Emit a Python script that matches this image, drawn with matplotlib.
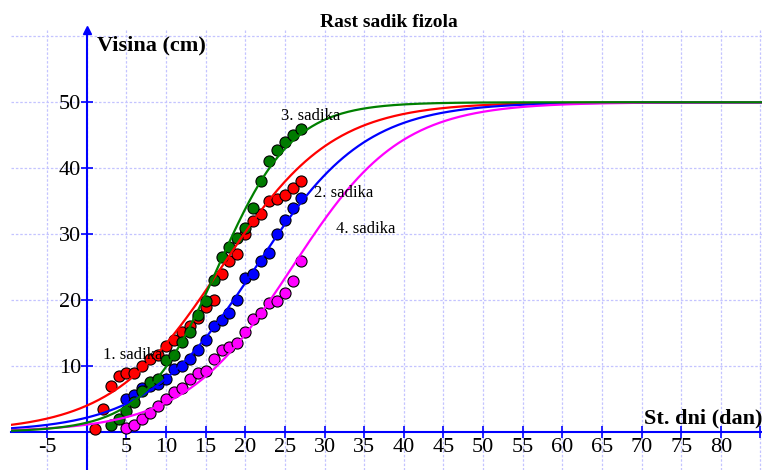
import numpy as np
import matplotlib
matplotlib.use("Agg")
import matplotlib.pyplot as plt

plt.rcParams["font.family"] = ["Liberation Serif", "DejaVu Serif"]

# Measured plant heights (cm) per day
days_red = list(range(1, 28))
red = [0.5, 3.5, 7.0, 8.5, 9.0, 9.0, 10.0, 11.0, 11.7, 13.0, 14.0, 15.1, 16.1, 17.3,
       19.0, 20.0, 24.0, 26.0, 27.0, 30.0, 32.0, 33.0, 35.0, 35.4, 36.0, 37.0, 38.0]

days_blue = list(range(5, 28))
blue = [5.0, 5.6, 6.6, 6.9, 7.2, 8.0, 9.5, 10.0, 11.0, 12.4, 13.9, 16.0, 17.0, 18.0,
        20.0, 23.4, 24.0, 26.0, 27.1, 30.0, 32.2, 34.0, 35.5]

days_green = list(range(3, 28))
green = [1.0, 2.0, 3.2, 4.6, 6.2, 7.6, 8.0, 10.9, 11.6, 13.6, 15.1, 17.7, 19.8, 23.0,
         26.6, 28.1, 29.4, 31.0, 34.0, 38.1, 41.1, 42.7, 44.0, 45.0, 46.0]

days_magenta = list(range(5, 28))
magenta = [0.6, 1.0, 2.0, 2.9, 4.0, 5.0, 6.1, 6.7, 8.0, 9.0, 9.3, 11.0, 12.4, 12.9,
           13.5, 15.1, 17.1, 18.1, 19.6, 19.9, 21.1, 22.9, 26.0]

# Logistic fits y = K / (1 + a*exp(-b*x))
K = 50
fit_red = (11.5, 0.1437)
fit_blue = (22.0, 0.145)
fit_green = (34.5, 0.214)
fit_magenta = (44.0, 0.146)

xmin, xmax = -9.57, 85.2
ymin, ymax = -5.77, 60.96
axis_blue = "#0000ff"
grid_col = "#c4c4ff"

fig = plt.figure(figsize=(7.62, 4.70), dpi=100)
ax = fig.add_axes([11 / 762, 0, 751 / 762, 440 / 470])
ax.set_xlim(xmin, xmax)
ax.set_ylim(ymin, ymax)

# dotted grid
for gx in range(-5, 90, 5):
    ax.axvline(gx, color=grid_col, ls=(0, (2, 1.5)), lw=0.9, zorder=0)
for gy in range(10, 70, 10):
    ax.axhline(gy, color=grid_col, ls=(0, (2, 1.5)), lw=0.9, zorder=0)

xs = np.linspace(xmin, xmax, 600)


def logistic(x, a, b):
    return K / (1 + a * np.exp(-b * x))


series = [
    (days_red, red, fit_red, "#ff0000", "#ff0000"),
    (days_blue, blue, fit_blue, "#0000ff", "#0000ff"),
    (days_magenta, magenta, fit_magenta, "#ff00ff", "#ff00ff"),
    (days_green, green, fit_green, "#008000", "#007a00"),
]
for d, v, (a, b), lc, fc in series:
    ax.plot(d, v, "o", ms=8, mfc=fc, mec="black", mew=0.8, zorder=3)
for d, v, (a, b), lc, fc in series:
    ax.plot(xs, logistic(xs, a, b), color=lc, lw=1.6, zorder=4)

# axes through origin
for side in ["top", "right"]:
    ax.spines[side].set_visible(False)
ax.spines["left"].set_position(("data", 0))
ax.spines["bottom"].set_position(("data", 0))
for side in ["left", "bottom"]:
    ax.spines[side].set_color(axis_blue)
    ax.spines[side].set_linewidth(1.5)
    ax.spines[side].set_zorder(2)

xt = [t for t in range(-5, 90, 5) if t != 0]
ax.set_xticks(xt)
ax.set_xticklabels([str(t) if t != 85 else "" for t in xt])
ax.set_yticks([10, 20, 30, 40, 50])
ax.tick_params(direction="inout", length=8, width=1.2, color=axis_blue,
               labelsize=16, pad=0)
ax.plot([0], [ymax], marker="^", ms=6, color=axis_blue, clip_on=False, zorder=5)

# labels
ax.text(1.3, 57.9, "Visina (cm)", fontsize=16, fontweight="bold", va="baseline")
ax.text(70.3, 1.3, "St. dni (dan)", fontsize=16, fontweight="bold", va="baseline")
ax.text(2.05, 11.0, "1. sadika", fontsize=12, va="baseline", zorder=6)
ax.text(28.7, 35.7, "2. sadika", fontsize=12, va="baseline", zorder=6)
ax.text(24.5, 47.3, "3. sadika", fontsize=12, va="baseline", zorder=6)
ax.text(31.5, 30.1, "4. sadika", fontsize=12, va="baseline", zorder=6)

fig.text(389 / 762, 1 - 27 / 470, "Rast sadik fizola", fontsize=14,
         fontweight="bold", ha="center", va="baseline")

fig.savefig("out.png", dpi=100)
